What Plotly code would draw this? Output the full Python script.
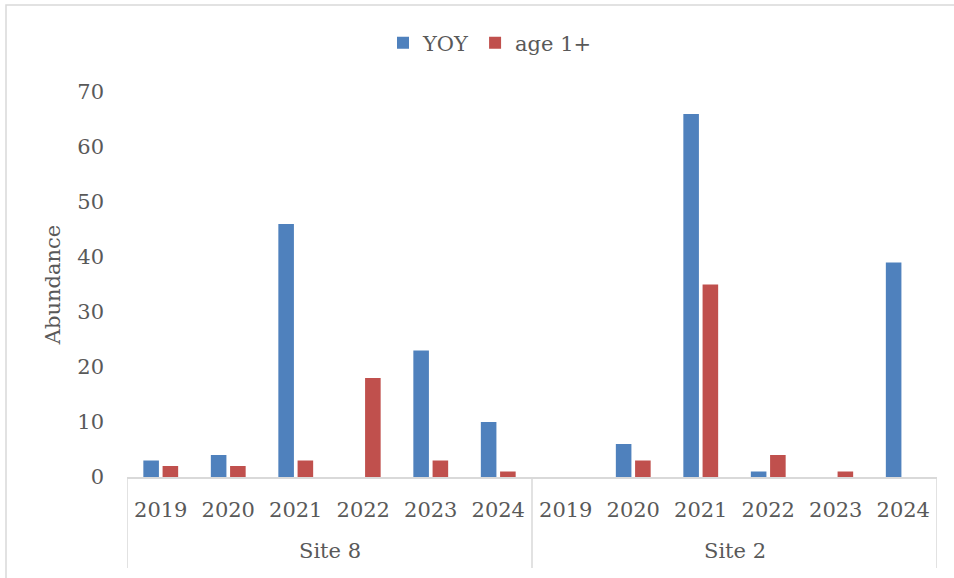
import plotly.graph_objects as go

# Survey abundance by site and year
site_names = ["Site 8", "Site 2"]
years = ["2019", "2020", "2021", "2022", "2023", "2024"]
yoy = [3, 4, 46, 0, 23, 10, 0, 6, 66, 1, 0, 39]
age1plus = [2, 2, 3, 18, 3, 1, 0, 3, 35, 4, 1, 0]

FONT = "DejaVu Serif"
TEXT = "#595959"
LINE = "#d9d9d9"
FS = 21

n_years = len(years)
xpos = list(range(len(site_names) * n_years))
year_labels = years * len(site_names)

fig = go.Figure()
fig.add_trace(go.Bar(x=xpos, y=yoy, name="YOY",
                     marker=dict(color="#4F81BD", line=dict(width=0))))
fig.add_trace(go.Bar(x=xpos, y=age1plus, name="age 1+",
                     marker=dict(color="#C0504D", line=dict(width=0))))

W, H = 954, 578
ml, mr, mt, mb = 127, 17, 92, 101
pw, ph = W - ml - mr, H - mt - mb

# site group labels and the divider lines between groups
for g, name in enumerate(site_names):
    first, last = g * n_years, (g + 1) * n_years - 1
    fig.add_annotation(x=(first + last) / 2, xref="x", y=-74 / ph, yref="paper",
                       text=name, showarrow=False, yanchor="middle",
                       font=dict(family=FONT, size=FS, color=TEXT))
for b in range(len(site_names) + 1):
    xb = b * n_years - 0.5
    fig.add_shape(type="line", xref="x", yref="paper", x0=xb, x1=xb,
                  y0=0, y1=-91 / ph, line=dict(color=LINE, width=1.5))

# outer chart-area border
fig.add_shape(type="rect", xref="paper", yref="paper",
              x0=(6 - ml) / pw, x1=(W + 2 - ml) / pw,
              y0=-(H + 2 - mt - ph) / ph, y1=(H - 5 - mb) / ph,
              line=dict(color=LINE, width=1.5), fillcolor="rgba(0,0,0,0)",
              layer="below")

fig.update_layout(
    width=W, height=H,
    margin=dict(l=ml, r=mr, t=mt, b=mb, autoexpand=False),
    paper_bgcolor="white", plot_bgcolor="white",
    font=dict(family=FONT, size=FS, color=TEXT),
    barmode="group", bargap=0.43, bargroupgap=0.19,
    showlegend=True,
    legend=dict(orientation="h", x=(490 - ml) / pw, xanchor="center",
                y=1.0 + (92 - 43) / ph, yanchor="middle",
                font=dict(family=FONT, size=FS, color=TEXT),
                traceorder="normal", itemwidth=30),
    xaxis=dict(range=[-0.5, len(xpos) - 0.5], tickmode="array", tickvals=xpos,
               ticktext=year_labels, showline=True, linecolor=LINE, linewidth=1.5,
               ticks="", ticklabelstandoff=13,
               tickfont=dict(family=FONT, size=FS, color=TEXT),
               showgrid=False, zeroline=False),
    yaxis=dict(range=[0, 70], dtick=10, showgrid=False, zeroline=False,
               showline=False, ticks="", ticklabelstandoff=22,
               tickfont=dict(family=FONT, size=FS, color=TEXT),
               title=dict(text="Abundance", standoff=10,
                          font=dict(family=FONT, size=FS, color=TEXT))),
)

fig.write_html("out.html")
